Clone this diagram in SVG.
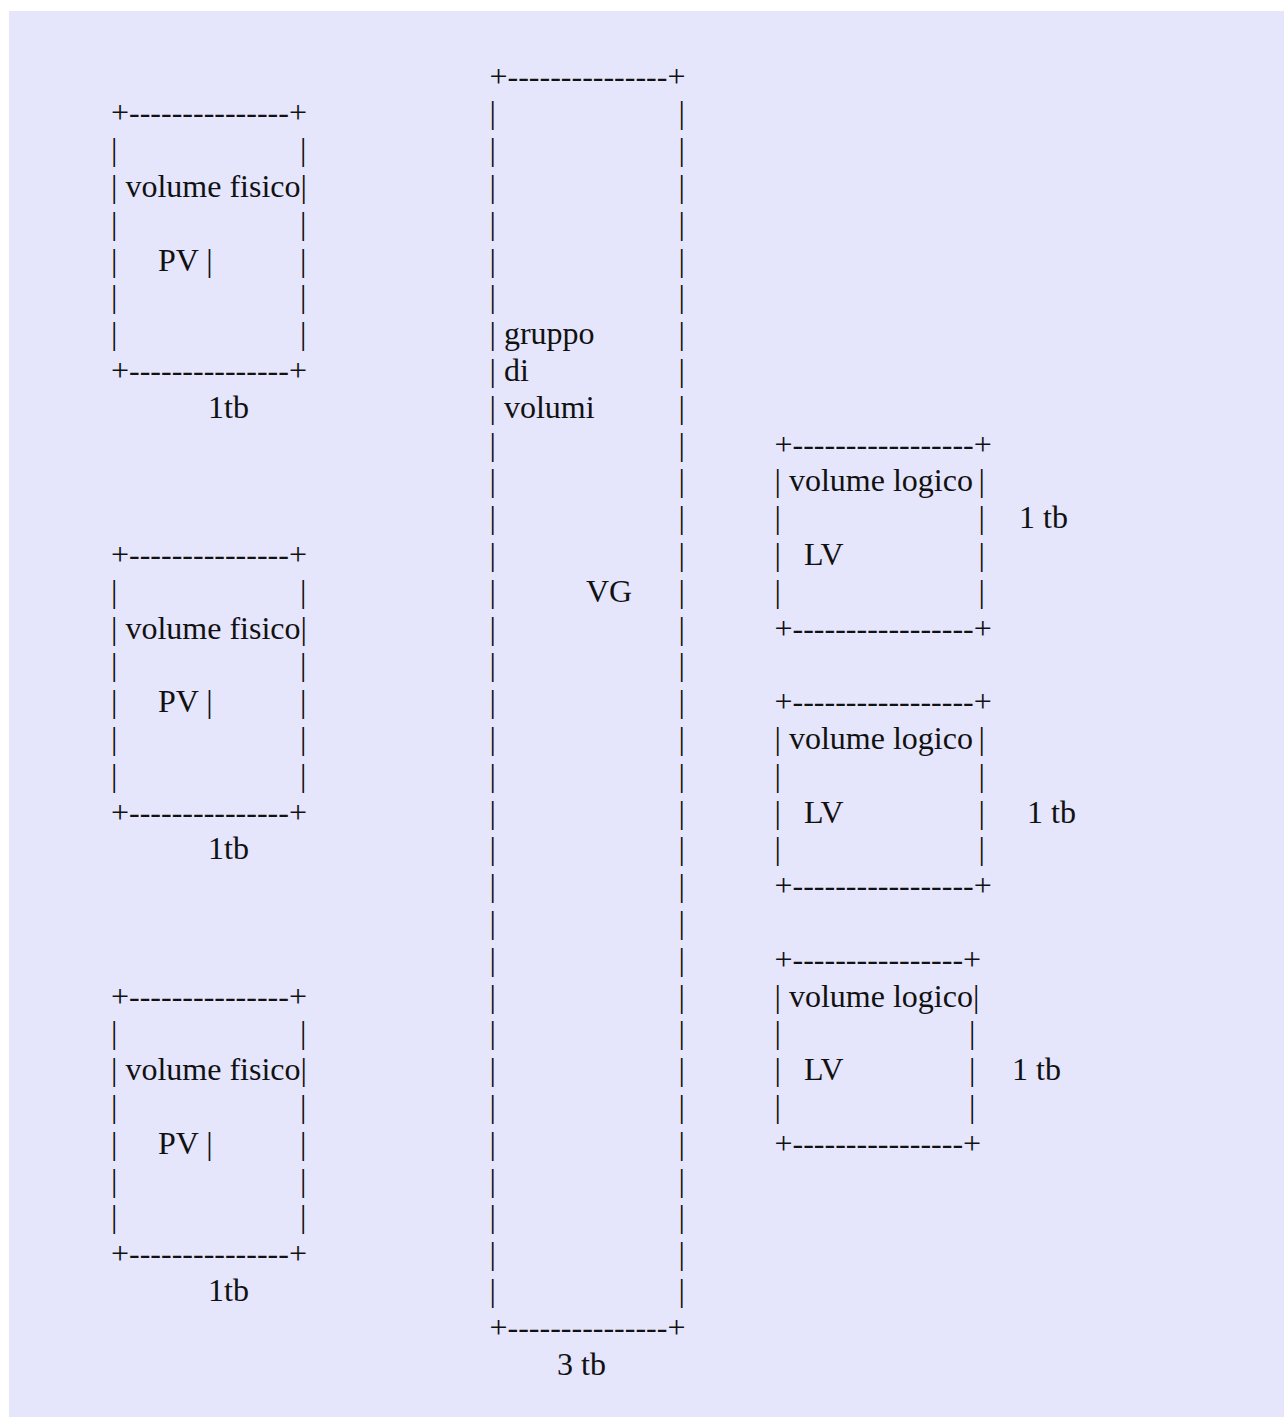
<svg xmlns="http://www.w3.org/2000/svg" width="1284" height="1417" viewBox="0 0 1284 1417">
<style>
.t{font-family:"Liberation Serif","Times New Roman",serif;font-size:32px;fill:#111111;white-space:pre}
</style>
<rect x="0" y="0" width="1284" height="1417" fill="#ffffff"/>
<rect x="9" y="11" width="1275" height="1406" fill="#E5E5FC"/>

<g transform="translate(0,2)">
<g id="pv1">
<text class="t">
<tspan x="111" y="121.3">+---------------+</tspan>
<tspan x="111" y="158.1">|</tspan><tspan x="300" y="158.1">|</tspan>
<tspan x="111" y="194.9">| volume fisico|</tspan>
<tspan x="111" y="231.7">|</tspan><tspan x="300" y="231.7">|</tspan>
<tspan x="111" y="268.5">|</tspan><tspan x="158" y="268.5">PV |</tspan><tspan x="300" y="268.5">|</tspan>
<tspan x="111" y="305.3">|</tspan><tspan x="300" y="305.3">|</tspan>
<tspan x="111" y="342.1">|</tspan><tspan x="300" y="342.1">|</tspan>
<tspan x="111" y="378.9">+---------------+</tspan>
<tspan x="208" y="415.7">1tb</tspan>
</text>
</g>

<g id="pv2">
<text class="t">
<tspan x="111" y="562.9">+---------------+</tspan>
<tspan x="111" y="599.7">|</tspan><tspan x="300" y="599.7">|</tspan>
<tspan x="111" y="636.5">| volume fisico|</tspan>
<tspan x="111" y="673.3">|</tspan><tspan x="300" y="673.3">|</tspan>
<tspan x="111" y="710.1">|</tspan><tspan x="158" y="710.1">PV |</tspan><tspan x="300" y="710.1">|</tspan>
<tspan x="111" y="746.9">|</tspan><tspan x="300" y="746.9">|</tspan>
<tspan x="111" y="783.7">|</tspan><tspan x="300" y="783.7">|</tspan>
<tspan x="111" y="820.5">+---------------+</tspan>
<tspan x="208" y="857.3">1tb</tspan>
</text>
</g>

<g id="pv3">
<text class="t">
<tspan x="111" y="1004.5">+---------------+</tspan>
<tspan x="111" y="1041.3">|</tspan><tspan x="300" y="1041.3">|</tspan>
<tspan x="111" y="1078.1">| volume fisico|</tspan>
<tspan x="111" y="1114.9">|</tspan><tspan x="300" y="1114.9">|</tspan>
<tspan x="111" y="1151.7">|</tspan><tspan x="158" y="1151.7">PV |</tspan><tspan x="300" y="1151.7">|</tspan>
<tspan x="111" y="1188.5">|</tspan><tspan x="300" y="1188.5">|</tspan>
<tspan x="111" y="1225.3">|</tspan><tspan x="300" y="1225.3">|</tspan>
<tspan x="111" y="1262.1">+---------------+</tspan>
<tspan x="208" y="1298.9">1tb</tspan>
</text>
</g>

<g id="vg">
<text class="t">
<tspan x="489.5" y="84.5">+---------------+</tspan>
<tspan x="489.5" y="121.3">|</tspan><tspan x="678.5" y="121.3">|</tspan>
<tspan x="489.5" y="158.1">|</tspan><tspan x="678.5" y="158.1">|</tspan>
<tspan x="489.5" y="194.9">|</tspan><tspan x="678.5" y="194.9">|</tspan>
<tspan x="489.5" y="231.7">|</tspan><tspan x="678.5" y="231.7">|</tspan>
<tspan x="489.5" y="268.5">|</tspan><tspan x="678.5" y="268.5">|</tspan>
<tspan x="489.5" y="305.3">|</tspan><tspan x="678.5" y="305.3">|</tspan>
<tspan x="489.5" y="342.1">| gruppo</tspan><tspan x="678.5" y="342.1">|</tspan>
<tspan x="489.5" y="378.9">| di</tspan><tspan x="678.5" y="378.9">|</tspan>
<tspan x="489.5" y="415.7">| volumi</tspan><tspan x="678.5" y="415.7">|</tspan>
<tspan x="489.5" y="452.5">|</tspan><tspan x="678.5" y="452.5">|</tspan>
<tspan x="489.5" y="489.3">|</tspan><tspan x="678.5" y="489.3">|</tspan>
<tspan x="489.5" y="526.1">|</tspan><tspan x="678.5" y="526.1">|</tspan>
<tspan x="489.5" y="562.9">|</tspan><tspan x="678.5" y="562.9">|</tspan>
<tspan x="489.5" y="599.7">|</tspan><tspan x="586" y="599.7">VG</tspan><tspan x="678.5" y="599.7">|</tspan>
<tspan x="489.5" y="636.5">|</tspan><tspan x="678.5" y="636.5">|</tspan>
<tspan x="489.5" y="673.3">|</tspan><tspan x="678.5" y="673.3">|</tspan>
<tspan x="489.5" y="710.1">|</tspan><tspan x="678.5" y="710.1">|</tspan>
<tspan x="489.5" y="746.9">|</tspan><tspan x="678.5" y="746.9">|</tspan>
<tspan x="489.5" y="783.7">|</tspan><tspan x="678.5" y="783.7">|</tspan>
<tspan x="489.5" y="820.5">|</tspan><tspan x="678.5" y="820.5">|</tspan>
<tspan x="489.5" y="857.3">|</tspan><tspan x="678.5" y="857.3">|</tspan>
<tspan x="489.5" y="894.1">|</tspan><tspan x="678.5" y="894.1">|</tspan>
<tspan x="489.5" y="930.9">|</tspan><tspan x="678.5" y="930.9">|</tspan>
<tspan x="489.5" y="967.7">|</tspan><tspan x="678.5" y="967.7">|</tspan>
<tspan x="489.5" y="1004.5">|</tspan><tspan x="678.5" y="1004.5">|</tspan>
<tspan x="489.5" y="1041.3">|</tspan><tspan x="678.5" y="1041.3">|</tspan>
<tspan x="489.5" y="1078.1">|</tspan><tspan x="678.5" y="1078.1">|</tspan>
<tspan x="489.5" y="1114.9">|</tspan><tspan x="678.5" y="1114.9">|</tspan>
<tspan x="489.5" y="1151.7">|</tspan><tspan x="678.5" y="1151.7">|</tspan>
<tspan x="489.5" y="1188.5">|</tspan><tspan x="678.5" y="1188.5">|</tspan>
<tspan x="489.5" y="1225.3">|</tspan><tspan x="678.5" y="1225.3">|</tspan>
<tspan x="489.5" y="1262.1">|</tspan><tspan x="678.5" y="1262.1">|</tspan>
<tspan x="489.5" y="1298.9">|</tspan><tspan x="678.5" y="1298.9">|</tspan>
<tspan x="489.5" y="1335.7">+---------------+</tspan>
<tspan x="557" y="1372.5">3 tb</tspan>
</text>
</g>

<g id="lv1">
<text class="t">
<tspan x="774.5" y="452.5">+-----------------+</tspan>
<tspan x="774.5" y="489.3">| volume logico</tspan><tspan x="978.5" y="489.3">|</tspan>
<tspan x="774.5" y="526.1">|</tspan><tspan x="978.5" y="526.1">|</tspan><tspan x="1019" y="526.1">1 tb</tspan>
<tspan x="774.5" y="562.9">|</tspan><tspan x="804" y="562.9">LV</tspan><tspan x="978.5" y="562.9">|</tspan>
<tspan x="774.5" y="599.7">|</tspan><tspan x="978.5" y="599.7">|</tspan>
<tspan x="774.5" y="636.5">+-----------------+</tspan>
</text>
</g>

<g id="lv2">
<text class="t">
<tspan x="774.5" y="710.1">+-----------------+</tspan>
<tspan x="774.5" y="746.9">| volume logico</tspan><tspan x="978.5" y="746.9">|</tspan>
<tspan x="774.5" y="783.7">|</tspan><tspan x="978.5" y="783.7">|</tspan>
<tspan x="774.5" y="820.5">|</tspan><tspan x="804" y="820.5">LV</tspan><tspan x="978.5" y="820.5">|</tspan><tspan x="1027" y="820.5">1 tb</tspan>
<tspan x="774.5" y="857.3">|</tspan><tspan x="978.5" y="857.3">|</tspan>
<tspan x="774.5" y="894.1">+-----------------+</tspan>
</text>
</g>

<g id="lv3">
<text class="t">
<tspan x="774.5" y="967.7">+----------------+</tspan>
<tspan x="774.5" y="1004.5">| volume logico|</tspan>
<tspan x="774.5" y="1041.3">|</tspan><tspan x="969" y="1041.3">|</tspan>
<tspan x="774.5" y="1078.1">|</tspan><tspan x="804" y="1078.1">LV</tspan><tspan x="969" y="1078.1">|</tspan><tspan x="1012" y="1078.1">1 tb</tspan>
<tspan x="774.5" y="1114.9">|</tspan><tspan x="969" y="1114.9">|</tspan>
<tspan x="774.5" y="1151.7">+----------------+</tspan>
</text>
</g>
</g>
</svg>
